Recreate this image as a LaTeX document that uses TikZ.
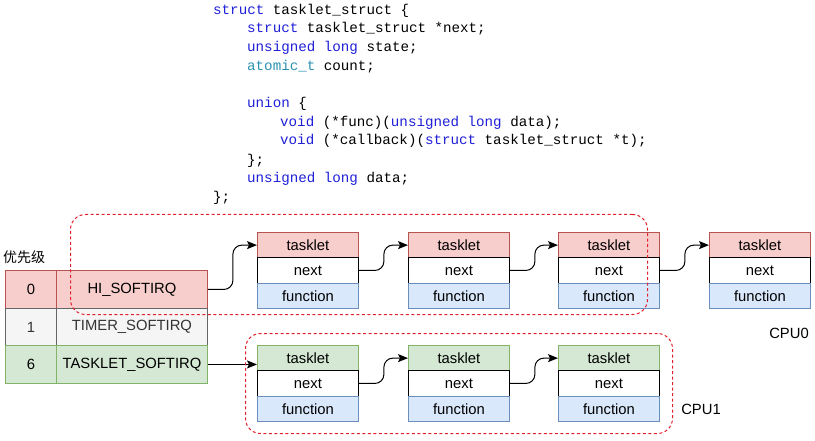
\documentclass[tikz,border=0pt]{standalone}
\usepackage{fontspec}
\setmainfont{Liberation Sans}
\setmonofont{Liberation Mono}
\newfontfamily\cjk{Noto Sans CJK SC}
\usetikzlibrary{arrows.meta}
\definecolor{kwc}{HTML}{1F1FD8}
\definecolor{tyc}{HTML}{2B91AF}
\definecolor{redfill}{HTML}{F8CECC}
\definecolor{redline}{HTML}{B85450}
\definecolor{grnfill}{HTML}{D5E8D4}
\definecolor{grnline}{HTML}{82B366}
\definecolor{bluefill}{HTML}{DAE8FC}
\definecolor{blueline}{HTML}{6C8EBF}
\definecolor{greyfill}{HTML}{F5F5F5}
\definecolor{greyline}{HTML}{666666}
\definecolor{dashred}{HTML}{E0202C}
\newcommand\kw[1]{\textcolor{kwc}{#1}}
\newcommand\ty[1]{\textcolor{tyc}{#1}}
\newcommand\tkcol[5]{%
  \node[tk, fill=#4, draw=#5] (#1h) at (#2,#3) {tasklet};
  \node[tk, fill=white, draw=black] (#1n) at (#2,#3+25.33) {next};
  \node[tk, fill=bluefill, draw=blueline] (#1f) at (#2,#3+50.67) {function};
}
\begin{document}
\begin{tikzpicture}[x=1pt,y=-1pt,
  code/.style={anchor=base west, inner sep=0, font=\ttfamily\fontsize{14.2}{16}\selectfont},
  tk/.style={anchor=north west, inner sep=0, line width=0.9pt, minimum width=101, minimum height=25.33, font=\fontsize{14.8}{16}\selectfont},
  cell/.style={anchor=north west, inner sep=0, line width=0.9pt, font=\fontsize{14.8}{16}\selectfont},
  link/.style={draw=black, line width=1pt, rounded corners=9, -{Stealth[length=10pt,width=8pt,inset=2pt]}},
  cpubox/.style={draw=dashred, line width=1pt, dash pattern=on 3pt off 2.5pt, rounded corners=15, anchor=north west, inner sep=0},
  lbl/.style={inner sep=0, font=\fontsize{14.8}{16}\selectfont}
]
\useasboundingbox (0,0) rectangle (815,441);

% code
\node[code] (c1) at (213,15) {\kw{struct} tasklet\_struct \{};
\node[code] (c2) at (247,33) {\kw{struct} tasklet\_struct *next;};
\node[code] (c3) at (247,52) {\kw{unsigned} \kw{long} state;};
\node[code] (c4) at (247,71) {\ty{atomic\_t} count;};
\node[code] (c5) at (247,108) {\kw{union} \{};
\node[code] (c6) at (280,127) {\kw{void} (*func)(\kw{unsigned} \kw{long} data);};
\node[code] (c7) at (280,145) {\kw{void} (*callback)(\kw{struct} tasklet\_struct *t);};
\node[code] (c8) at (247,165) {\};};
\node[code] (c9) at (247,183) {\kw{unsigned} \kw{long} data;};
\node[code] (c10) at (213,202) {\};};

% priority table
\node[lbl, font=\cjk\fontsize{14}{16}\selectfont] (prio) at (24,257) {优先级};
\node[cell, fill=redfill, draw=redline, minimum width=51, minimum height=38] (p0) at (5,270) {0};
\node[cell, fill=redfill, draw=redline, minimum width=151, minimum height=38] (hi) at (56,270) {HI\_SOFTIRQ};
\node[cell, fill=greyfill, draw=greyline, text=black!80, minimum width=51, minimum height=37] (p1) at (5,308) {1};
\node[cell, fill=greyfill, draw=greyline, text=black!80, minimum width=151, minimum height=37] (tm) at (56,308) {TIMER\_SOFTIRQ};
\node[cell, fill=grnfill, draw=grnline, minimum width=51, minimum height=38] (p6) at (5,345) {6};
\node[cell, fill=grnfill, draw=grnline, minimum width=151, minimum height=38] (ts) at (56,345) {TASKLET\_SOFTIRQ};

% tasklet lists
\tkcol{a}{257}{232}{redfill}{redline}
\tkcol{b}{408}{232}{redfill}{redline}
\tkcol{c}{558}{232}{redfill}{redline}
\tkcol{d}{709}{232}{redfill}{redline}
\tkcol{e}{257}{345}{grnfill}{grnline}
\tkcol{f}{408}{345}{grnfill}{grnline}
\tkcol{g}{558}{345}{grnfill}{grnline}

% connectors
\draw[link] (hi.east) -- ++(25,0) |- (ah.west);
\draw[link] (an.east) -- ++(25,0) |- (bh.west);
\draw[link] (bn.east) -- ++(25,0) |- (ch.west);
\draw[link] (cn.east) -- ++(25,0) |- (dh.west);
\draw[link] (ts.east) -- (eh.west |- ts.east);
\draw[link] (en.east) -- ++(25,0) |- (fh.west);
\draw[link] (fn.east) -- ++(25,0) |- (gh.west);

% cpu groups
\node[cpubox, minimum width=577, minimum height=100] (cpu0) at (70,214) {};
\node[cpubox, minimum width=427, minimum height=100] (cpu1) at (245,333) {};
\node[lbl] (cpu0l) at (789,333) {CPU0};
\node[lbl] (cpu1l) at (701,409) {CPU1};
\end{tikzpicture}
\end{document}
